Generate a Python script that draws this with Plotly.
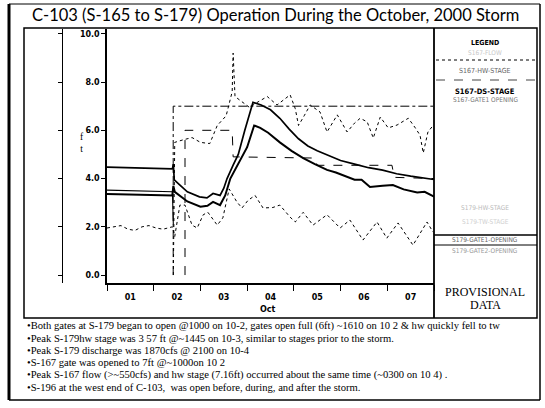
import pandas as pd
import plotly.graph_objects as go

# ---- data (x in days after 2000-10-01 00:00, y in ft) ----
s167_hw_days = [0, 0.5, 1.0, 1.40, 1.42, 1.44, 1.55, 1.72, 1.98, 2.14, 2.27, 2.42, 2.50, 2.57,
                2.70, 2.81, 2.95, 3.125, 3.30, 3.50, 3.70, 3.90, 4.10, 4.30, 4.50, 4.75, 5.00,
                5.30, 5.60, 5.90, 6.20, 6.50, 6.80, 7.0]
s167_hw_ft = [4.47, 4.45, 4.42, 4.40, 4.60, 3.95, 3.75, 3.45, 3.24, 3.20, 3.38, 3.30, 3.60, 4.00,
              4.56, 5.00, 6.00, 7.16, 7.05, 6.85, 6.50, 6.05, 5.65, 5.35, 5.15, 4.95, 4.75,
              4.60, 4.45, 4.35, 4.20, 4.10, 4.02, 3.96]

s167_ds_days = [0, 0.5, 1.0, 1.40, 1.42, 1.45, 1.72, 2.00, 2.15, 2.27, 2.42, 2.53, 2.64, 2.79,
                3.00, 3.15, 3.28, 3.45, 3.70, 3.95, 4.20, 4.45, 4.71, 4.90, 5.14, 5.30, 5.45,
                5.63, 5.90, 6.12, 6.35, 6.64, 6.80, 7.0]
s167_ds_ft = [3.36, 3.34, 3.32, 3.30, 3.70, 3.45, 3.05, 2.83, 2.87, 3.03, 2.90, 3.30, 4.00, 4.56,
              5.30, 6.20, 6.10, 5.90, 5.50, 5.15, 4.85, 4.60, 4.36, 4.25, 4.08, 3.95, 3.95,
              3.65, 3.70, 3.73, 3.55, 3.42, 3.45, 3.25]

s179_hw_days = [0, 0.5, 1.0, 1.40, 1.42]
s179_hw_ft = [3.52, 3.50, 3.47, 3.45, 2.10]

s179_tw_days = [0, 0.15, 0.3, 0.45, 0.6, 0.75, 0.9, 1.05, 1.2, 1.4, 1.45, 1.56, 1.67, 1.82,
                1.93, 2.06, 2.16, 2.36, 2.48, 2.615, 2.78, 2.89, 3.02, 3.17, 3.34, 3.55, 3.70,
                3.92, 4.03, 4.20, 4.41, 4.71, 4.99, 5.20, 5.48, 5.78, 5.99, 6.23, 6.55, 6.85, 6.98]
s179_tw_ft = [1.95, 2.00, 2.05, 1.90, 1.85, 2.00, 2.05, 1.95, 1.90, 2.00, 1.60, 2.90, 2.90, 2.07,
              1.95, 2.50, 2.60, 2.07, 2.37, 3.57, 3.03, 2.78, 3.10, 3.30, 2.78, 2.80, 2.90,
              2.40, 2.20, 2.60, 2.07, 2.50, 1.95, 2.28, 1.45, 2.20, 1.53, 2.16, 1.24, 2.20, 1.78]

s167_flow_days = [1.42, 1.45, 1.62, 1.82, 2.00, 2.20, 2.36, 2.55, 2.68, 2.70, 2.74, 2.89, 3.05,
                  3.21, 3.43, 3.64, 3.80, 3.92, 4.03, 4.10, 4.22, 4.35, 4.56, 4.71, 4.93, 5.14,
                  5.30, 5.42, 5.57, 5.70, 5.85, 6.02, 6.21, 6.45, 6.60, 6.70, 6.77, 6.87, 6.98]
s167_flow_val = [0.0, 5.5, 5.6, 5.7, 5.5, 5.45, 6.2, 6.6, 7.6, 9.2, 7.4, 7.2, 6.95,
                 7.15, 7.4, 7.05, 7.3, 7.47, 6.9, 6.2, 6.6, 7.05, 6.76, 5.93, 6.64, 5.93,
                 6.3, 6.5, 6.35, 5.68, 6.55, 6.1, 6.22, 6.5, 6.1, 5.8, 5.06, 5.93, 6.2]

s167_gate_days = [1.417, 1.417, 7.0]
s167_gate_ft = [0.0, 7.0, 7.0]

s179_gate_days = [1.67, 1.67, 2.68, 2.70, 4.45, 4.50, 6.10, 6.15, 7.0]
s179_gate_ft = [0.0, 6.0, 6.0, 4.9, 4.85, 4.55, 4.55, 4.05, 4.0]

y_ticks = [0, 2, 4, 6, 8, 10]

title_text = "C-103 (S-165 to S-179) Operation During the October, 2000 Storm"
notes = [
    "\u2022Both gates at S-179 began to open @1000 on 10-2, gates open full (6ft) ~1610 on 10 2 & hw quickly fell to tw",
    "\u2022Peak S-179hw stage was 3 57 ft @~1445 on 10-3, similar to stages prior to the storm.",
    "\u2022Peak S-179 discharge was 1870cfs @ 2100 on 10-4",
    "\u2022S-167 gate was opened to 7ft @~1000on 10 2",
    "\u2022Peak S-167 flow (>~550cfs) and hw stage (7.16ft) occurred about the same time (~0300 on 10 4) .",
    "\u2022S-196 at the west end of C-103,  was open before, during, and after the storm.",
]

# ---- helpers ----
W, H = 545, 408
base = pd.Timestamp("2000-10-01")


def t(days):
    return [base + pd.Timedelta(days=d) for d in days]


def X(p):
    return p / W


def Y(p):
    return 1 - p / H


fig = go.Figure()


def add(days, vals, width, dash="solid", yaxis="y"):
    fig.add_trace(go.Scatter(x=t(days), y=vals, mode="lines", yaxis=yaxis,
                             line=dict(color="black", width=width, dash=dash),
                             showlegend=False, hoverinfo="skip"))


add(s179_tw_days, s179_tw_ft, 1.0, "dot")
add(s167_flow_days, s167_flow_val, 1.0, "dot", yaxis="y2")
add(s167_gate_days, s167_gate_ft, 1.0, "dashdot")
add(s179_gate_days, s179_gate_ft, 1.0, "dash")
add(s179_hw_days, s179_hw_ft, 1.1)
add(s167_ds_days, s167_ds_ft, 2.0)
add(s167_hw_days, s167_hw_ft, 1.7)

tick_font = dict(family="DejaVu Sans", size=8, color="black", weight="bold")
yrange = [-0.33, 10.2]

fig.update_layout(
    width=W, height=H, margin=dict(l=0, r=0, t=0, b=0),
    paper_bgcolor="white", plot_bgcolor="white", showlegend=False,
    xaxis=dict(type="date", domain=[X(107), X(434)],
               range=[base, base + pd.Timedelta(days=7)],
               tick0=base, dtick=86400000, tickformat="%d", ticklabelmode="period",
               ticks="outside", ticklen=6, tickwidth=1.2, tickcolor="black",
               showline=True, linewidth=1.5, linecolor="black",
               showgrid=False, zeroline=False, tickfont=tick_font),
    yaxis=dict(domain=[Y(283), Y(29)], range=yrange, tickvals=y_ticks, tickformat=".1f",
               ticks="outside", ticklen=4, tickwidth=1.2, tickcolor="black",
               showline=True, linewidth=1.5, linecolor="black",
               showgrid=False, zeroline=False, tickfont=tick_font),
    yaxis2=dict(overlaying="y", anchor="free", position=X(62), side="left",
                range=yrange, tickvals=y_ticks, showticklabels=False,
                ticks="outside", ticklen=4, tickwidth=1, tickcolor="black",
                showline=True, linewidth=1, linecolor="black",
                showgrid=False, zeroline=False),
)


def hline(y, x0, x1, width=1.0, dash="solid", color="black"):
    fig.add_shape(type="line", xref="paper", yref="paper", x0=X(x0), x1=X(x1),
                  y0=Y(y), y1=Y(y), line=dict(color=color, width=width, dash=dash))


def vline(x, y0, y1, width=1.0, color="black"):
    fig.add_shape(type="line", xref="paper", yref="paper", x0=X(x), x1=X(x),
                  y0=Y(y0), y1=Y(y1), line=dict(color=color, width=width))


# page border
vline(9, 4, 400, 3)
hline(4, 9, 540, 1)
vline(540, 4, 400, 1.5)
hline(400, 9, 540, 1.5)
# chart frame
fig.add_shape(type="rect", xref="paper", yref="paper", x0=X(24), x1=X(537),
              y0=Y(318), y1=Y(28), line=dict(color="black", width=1.5))
# legend panel
vline(434, 28, 318, 1.8)
hline(60, 436, 535, 1, "dot")
hline(80, 436, 535, 1, "dash", "#444444")
hline(235, 434, 537, 1.5)
hline(245, 434, 537, 1)


def text(s, x, y, size, family="DejaVu Sans", color="black", anchor="center", weight="normal"):
    fig.add_annotation(text=s, x=X(x), y=Y(y), xref="paper", yref="paper",
                       xanchor=anchor, yanchor="middle", showarrow=False,
                       font=dict(family=family, size=size, color=color, weight=weight))


text(title_text, 275, 15, 16.5, family="Lato")
text("Oct", 268, 309, 8, weight="bold")
text("f<br>t", 82, 143, 9.5, family="Liberation Serif")

lg = "DejaVu Sans Condensed"
text("LEGEND", 485, 43, 7, family=lg, weight="bold")
text("S167-FLOW", 485, 53, 6.5, family=lg, color="#c8c8c8")
text("S167-HW-STAGE", 485, 71, 7, family=lg, color="#666666")
text("S167-DS-STAGE", 485, 92, 7.5, family=lg, weight="bold")
text("S167-GATE1 OPENING", 485, 100, 6.5, family=lg, color="#777777")
text("S179-HW-STAGE", 485, 208, 6.5, family=lg, color="#bbbbbb")
text("S179-TW-STAGE", 485, 222, 6.5, family=lg, color="#d0d0d0")
text("S179-GATE1-OPENING", 485, 240, 6.5, family=lg, color="#666666")
text("S179-GATE2-OPENING", 485, 251, 6.5, family=lg, color="#999999")
text("PROVISIONAL", 485, 292, 12, family="Liberation Serif")
text("DATA", 485, 305, 12, family="Liberation Serif")

for i, line in enumerate(notes):
    text(line, 25, 326 + i * 12.2, 10.6, family="Liberation Serif", anchor="left")

fig.write_html("out.html")
